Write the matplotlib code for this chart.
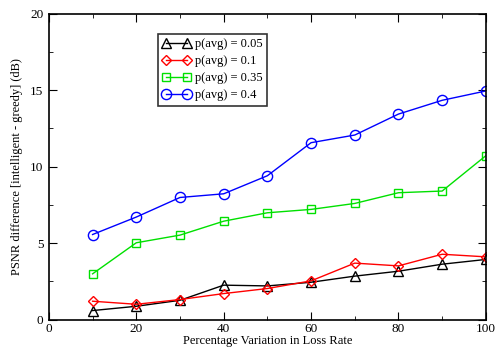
import numpy as np
import matplotlib
matplotlib.use('Agg')
import matplotlib.pyplot as plt
from matplotlib.ticker import MultipleLocator

# data
loss_rate = [10, 20, 30, 40, 50, 60, 70, 80, 90, 100]
p_005 = [0.59, 0.87, 1.26, 2.25, 2.20, 2.44, 2.84, 3.16, 3.62, 3.93]
p_01 = [1.20, 1.00, 1.31, 1.70, 2.03, 2.53, 3.69, 3.51, 4.27, 4.10]
p_035 = [2.99, 5.02, 5.52, 6.43, 6.98, 7.20, 7.59, 8.29, 8.40, 10.71]
p_04 = [5.56, 6.70, 7.98, 8.22, 9.40, 11.56, 12.06, 13.43, 14.33, 14.94]

plt.rcParams['font.family'] = ['Liberation Serif', 'DejaVu Serif']

fig = plt.figure(figsize=(5.04, 3.47), dpi=100)
ax = fig.add_axes([0.097, 0.079, 0.867, 0.882])

ms = 7
ax.plot(loss_rate, p_005, color='black', marker='^', mfc='none', ms=ms, lw=1, label='p(avg) = 0.05')
ax.plot(loss_rate, p_01, color='red', marker='D', mfc='none', ms=ms*0.8, lw=1, label='p(avg) = 0.1')
ax.plot(loss_rate, p_035, color='#00e000', marker='s', mfc='none', ms=ms*0.9, lw=1, label='p(avg) = 0.35')
ax.plot(loss_rate, p_04, color='blue', marker='o', mfc='none', ms=ms*1.05, lw=1, label='p(avg) = 0.4')

ax.set_xlim(0, 100)
ax.set_ylim(0, 20)
ax.xaxis.set_major_locator(MultipleLocator(20))
ax.xaxis.set_minor_locator(MultipleLocator(10))
ax.yaxis.set_major_locator(MultipleLocator(5))
ax.yaxis.set_minor_locator(MultipleLocator(2.5))
ax.tick_params(which='both', direction='in', top=True, right=True, labelsize=9.5)
ax.tick_params(which='major', length=6)
ax.tick_params(axis='x', which='major', pad=2.5)
ax.tick_params(axis='y', which='major', pad=4)
ax.tick_params(which='minor', length=3)
for s in ax.spines.values():
    s.set_linewidth(1.2)

ax.set_xlabel('Percentage Variation in Loss Rate', fontsize=9, labelpad=0)
ax.set_ylabel('PSNR difference [intelligent - greedy] (dB)', fontsize=9, labelpad=5)

leg = ax.legend(loc='upper left', bbox_to_anchor=(0.249, 0.933), borderaxespad=0,
                fontsize=9, frameon=True, fancybox=False, edgecolor='black',
                numpoints=2, handlelength=2.3, handletextpad=0.3, labelspacing=0.4,
                borderpad=0.35)
leg.get_frame().set_linewidth(1.2)

plt.savefig('out.png', dpi=100)
